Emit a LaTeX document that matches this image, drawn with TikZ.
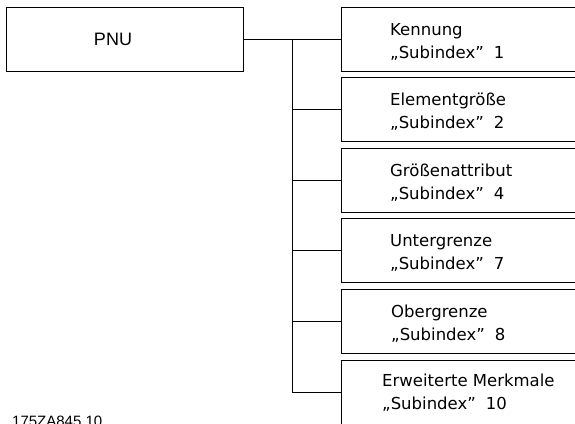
\documentclass[tikz,border=0pt]{standalone}
\usepackage{fontspec}
\setmainfont{DejaVu Sans}
\newfontfamily\pnufont{Liberation Sans}
\begin{document}
\begin{tikzpicture}[x=1pt,y=-1pt,
  boxstyle/.style={draw=black, line width=1pt, rectangle, minimum height=64pt, inner sep=0pt},
  itembox/.style={boxstyle, minimum width=260pt, anchor=west},
  lbl/.style={anchor=base west, inner sep=0pt, font=\fontsize{16.5}{18}\selectfont},
  conn/.style={line width=1pt}]
\useasboundingbox (0,0) rectangle (575,423);
\clip (0,0) rectangle (575,423);
\fill[white] (0,0) rectangle (575,423);

\node[boxstyle, minimum width=237pt] (pnu) at (124.5,39) {};
\node[inner sep=0pt, font=\pnufont\fontsize{18}{20}\selectfont] (pnut) at (113,39) {PNU};

\node[itembox] (b1) at (341,39) {};
\node[itembox] (b2) at (341,109.6) {};
\node[itembox] (b3) at (341,180.2) {};
\node[itembox] (b4) at (341,250.8) {};
\node[itembox] (b5) at (341,321.4) {};
\node[itembox] (b6) at (341,392) {};

\node[lbl] (t1a) at (390,35) {Kennung};
\node[lbl] (t1b) at (390,58) {„Subindex”\hspace{0.6em}1};
\node[lbl] (t2a) at (390,105.6) {Elementgröße};
\node[lbl] (t2b) at (390,128.6) {„Subindex”\hspace{0.6em}2};
\node[lbl] (t3a) at (390,176.2) {Größenattribut};
\node[lbl] (t3b) at (390,199.2) {„Subindex”\hspace{0.6em}4};
\node[lbl] (t4a) at (390,246.8) {Untergrenze};
\node[lbl] (t4b) at (390,269.8) {„Subindex”\hspace{0.6em}7};
\node[lbl] (t5a) at (391,317.4) {Obergrenze};
\node[lbl] (t5b) at (391,340.4) {„Subindex”\hspace{0.6em}8};
\node[lbl] (t6a) at (382,386) {Erweiterte Merkmale};
\node[lbl] (t6b) at (382,409) {„Subindex”\hspace{0.6em}10};

\coordinate (j1) at (292,39);
\coordinate (j6) at (292,392);
\draw[conn] (pnu.east) -- (b1.west);
\draw[conn] (j1) -- (j6);
\foreach \b in {b2,b3,b4,b5,b6}
  \draw[conn] (\b.west -| j1) -- (\b.west);

\node[anchor=base west, inner sep=0pt, font=\pnufont\fontsize{15}{17}\selectfont] (fig) at (12,426) {175ZA845.10};
\end{tikzpicture}
\end{document}
